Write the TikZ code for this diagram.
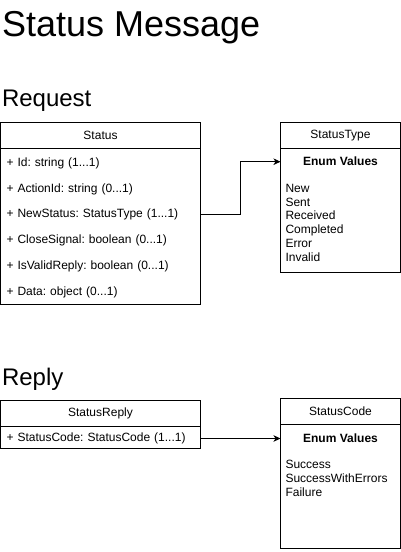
\documentclass[tikz,border=0pt]{standalone}
\usepackage{fontspec}
\setmainfont{Liberation Sans}
\usetikzlibrary{arrows.meta, positioning}
\tikzstyle{heading} = [anchor=base west, inner sep=0pt, font=\fontsize{24}{28}\selectfont]
\tikzstyle{classhead} = [rectangle, draw, minimum height=26pt, inner sep=0pt, outer sep=0pt, font=\fontsize{12}{14}\selectfont]
\tikzstyle{classbody} = [rectangle, draw, inner sep=0pt, outer sep=0pt]
\tikzstyle{attr} = [anchor=west, text width=188pt, inner xsep=6pt, inner ysep=0pt, outer sep=0pt, align=left, font=\fontsize{12}{14}\selectfont\frenchspacing]
\tikzstyle{enumhead} = [minimum width=120pt, inner sep=0pt, outer sep=0pt, font=\bfseries\fontsize{12}{14}\selectfont]
\tikzstyle{enumvals} = [anchor=north west, inner sep=0pt, align=left, font=\fontsize{12}{13.9}\selectfont]
\tikzstyle{assoc} = [->, >={Stealth[length=7pt, width=6.5pt, inset=2pt]}]

\begin{document}
\begin{tikzpicture}[x=1pt, y=-1pt, line width=1pt]
  \useasboundingbox (0,0) rectangle (401,552);

  % 标题
  \node[heading, font=\fontsize{36}{40}\selectfont] (title) at (1.6,36.5) {Status Message};
  \node[heading] (request) at (1.5,106.5) {Request};
  \node[heading] (reply) at (1.5,385) {Reply};

  % Status 类
  \node[classhead, minimum width=200pt] (statushdr) at (100.5,135.5) {Status};
  \node[classbody, minimum width=200pt, minimum height=156pt, below=0pt of statushdr] (status) {};
  \node[attr] (id) at (0.5,163.5) {+ Id: string (1...1)};
  \node[attr] (actionid) at (0.5,189.2) {+ ActionId: string (0...1)};
  \node[attr] (newstatus) at (0.5,214) {+ NewStatus: StatusType (1...1)};
  \node[attr] (closesignal) at (0.5,240) {+ CloseSignal: boolean (0...1)};
  \node[attr] (isvalid) at (0.5,266) {+ IsValidReply: boolean (0...1)};
  \node[attr] (data) at (0.5,292) {+ Data: object (0...1)};

  % StatusType 枚举
  \node[classhead, minimum width=120pt] (typehdr) at (340.5,135.5) {StatusType};
  \node[classbody, minimum width=120pt, minimum height=124pt, below=0pt of typehdr] (statustype) {};
  \node[enumhead] (typeenum) at (340.5,161.7) {Enum Values};
  \node[enumvals] (typevals) at (285,183.4) {New\\Sent\\Received\\Completed\\Error\\Invalid};

  % StatusReply 类
  \node[classhead, minimum width=200pt] (replyhdr) at (100.5,413.5) {StatusReply};
  \node[classbody, minimum width=200pt, minimum height=22pt, below=0pt of replyhdr] (statusreply) {};
  \node[attr] (codeattr) at (0.5,438.5) {+ StatusCode: StatusCode (1...1)};

  % StatusCode 枚举
  \node[classhead, minimum width=120pt] (codehdr) at (340.5,411.5) {StatusCode};
  \node[classbody, minimum width=120pt, minimum height=124pt, below=0pt of codehdr] (statuscode) {};
  \node[enumhead] (codeenum) at (340.5,438.5) {Enum Values};
  \node[enumvals] (codevals) at (285,459.7) {Success\\SuccessWithErrors\\Failure};

  % 关联
  \draw[assoc] (newstatus.east) -- ++(39.5,0) |- (typeenum.west);
  \draw[assoc] (codeattr.east) -- (codeenum.west);
\end{tikzpicture}
\end{document}
